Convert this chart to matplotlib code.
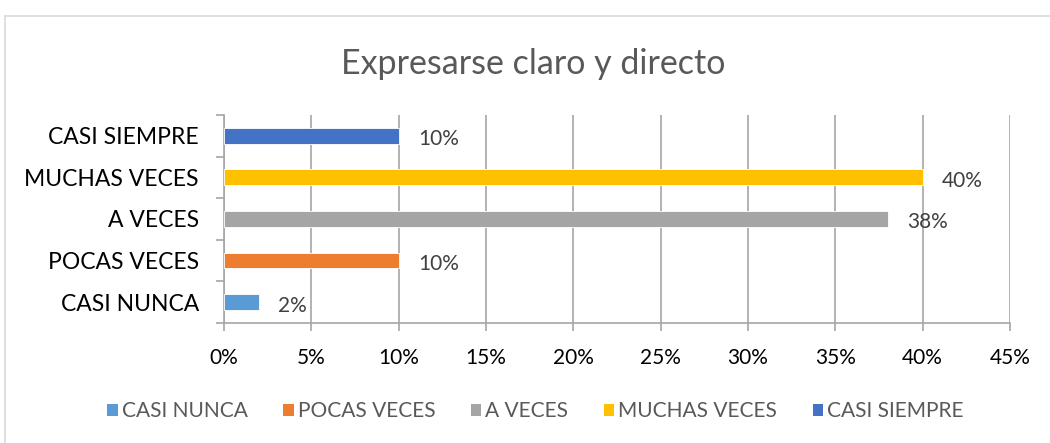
import matplotlib
matplotlib.use("Agg")
import matplotlib.pyplot as plt
from matplotlib.patches import Rectangle, Patch
from matplotlib.ticker import FixedLocator, FuncFormatter

categories = ["CASI NUNCA", "POCAS VECES", "A VECES", "MUCHAS VECES", "CASI SIEMPRE"]
values = [2, 10, 38, 40, 10]
colors = ["#5B9BD5", "#ED7D31", "#A5A5A5", "#FFC000", "#4472C4"]
xticks = [0, 5, 10, 15, 20, 25, 30, 35, 40, 45]
title = "Expresarse claro y directo"

plt.rcParams['font.family'] = ['Lato', 'DejaVu Sans']

fig = plt.figure(figsize=(10.5, 4.43), dpi=100)
ax = fig.add_axes([0.2133, 0.2709, 0.9619 - 0.2133, 0.7404 - 0.2709])

ypos = list(range(len(categories)))
ax.barh(ypos, values, height=0.38, color=colors, edgecolor="white", linewidth=0.6, zorder=3)
for y, v in zip(ypos, values):
    ax.text(v + 1.1, y - 0.08, f"{v}%", va="center", ha="left", fontsize=15, color="#404040")

ax.set_xlim(0, 45)
ax.set_ylim(-0.5, len(categories) - 0.5)
ax.set_xticks(xticks)
ax.xaxis.set_major_formatter(FuncFormatter(lambda x, p: f"{int(round(x))}%"))
ax.set_yticks(ypos)
ax.set_yticklabels(categories)
ax.yaxis.set_minor_locator(FixedLocator([i - 0.5 for i in range(len(categories) + 1)]))
ax.tick_params(axis="y", which="major", length=0, pad=18, labelsize=16.5, labelcolor="#000000")
ax.tick_params(axis="y", which="minor", length=6, width=1.2, color="#A6A6A6")
ax.tick_params(axis="x", which="major", length=6, width=1.2, color="#A6A6A6", pad=12, labelsize=15, labelcolor="#000000")

ax.grid(axis="x", color="#A6A6A6", linewidth=1.2, zorder=0)
for s in ["top", "right"]:
    ax.spines[s].set_visible(False)
for s in ["left", "bottom"]:
    ax.spines[s].set_color("#A6A6A6")
    ax.spines[s].set_linewidth(1.2)

fig.text(0.508, 0.855, title, ha="center", va="center", fontsize=24.5, color="#595959")

handles = [Patch(facecolor=c, edgecolor="none") for c in colors]
fig.legend(handles, categories, loc="center", bbox_to_anchor=(0.51, 0.072), ncol=5, frameon=False,
           fontsize=15, labelcolor="#595959", handlelength=0.5, handleheight=0.5, handletextpad=0.2,
           columnspacing=1.7)

fig.patches.append(Rectangle((5 / 1050, -0.1), 1.2, 1 - 16 / 443 + 0.1, transform=fig.transFigure,
                             fill=False, edgecolor="#D9D9D9", linewidth=1.2))

fig.savefig("out.png", dpi=100)
